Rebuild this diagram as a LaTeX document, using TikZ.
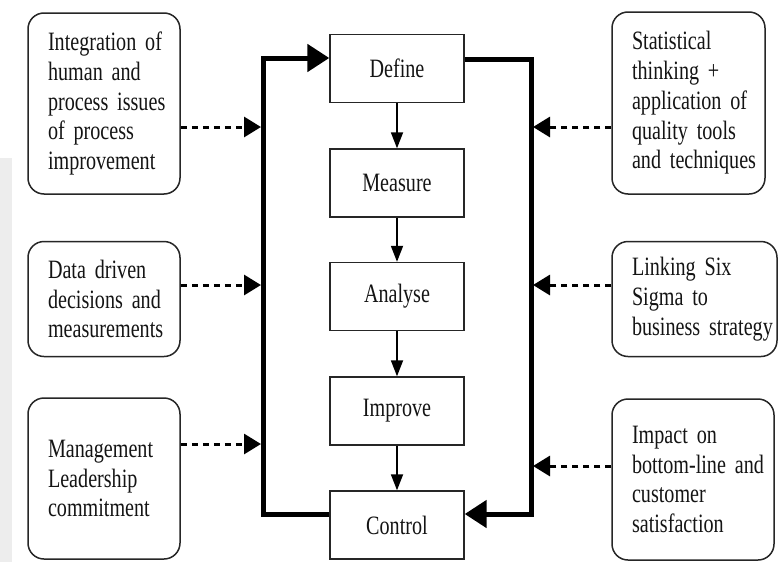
\documentclass[tikz,border=0pt]{standalone}
\usepackage{fontspec}
\setmainfont[FakeStretch=0.76]{Liberation Serif}
\usetikzlibrary{arrows.meta}
\begin{document}
\begin{tikzpicture}[x=1pt,y=-1pt,
  txt/.style={font=\fontsize{26.5}{29.8}\selectfont, text=black!92},
  sidebox/.style={txt, draw=black!85, line width=1.5pt, rounded corners=16pt, align=left, inner xsep=20pt, inner ysep=0pt,
    execute at begin node={\hyphenpenalty=10000\exhyphenpenalty=10000\hbadness=10000\hfuzz=100pt}},
  stepbox/.style={txt, draw=black!85, line width=1.4pt, minimum width=134pt, minimum height=68pt, inner sep=0pt},
  thin arrow/.style={draw=black, line width=1.8pt, -{Triangle[length=16pt,width=12pt]}},
  thick loop/.style={draw=black, line width=5pt, -{Triangle[length=22pt,width=27pt]}},
  dot arrow/.style={draw=black, line width=3pt, dash pattern=on 6pt off 5pt, -{Triangle[length=17pt,width=20pt]}}
]
\useasboundingbox (0,0) rectangle (778,562);
\fill[white] (0,0) rectangle (778,562);
\fill[black!7] (0,158) rectangle (12,562);

% side boxes
\node[sidebox, text width=112pt, minimum height=181pt] (L1) at (104,103.5) {Integration~of\\human~and\\process~issues\\of~process\\improvement};
\node[sidebox, text width=112pt, minimum height=115pt] (L2) at (104,299) {Data~driven\\decisions~and\\measurements};
\node[sidebox, text width=112pt, minimum height=161pt] (L3) at (104,478.5) {Management\\Leadership\\commitment};
\node[sidebox, text width=113pt, minimum height=182pt] (R1) at (688.5,103) {Statistical\\thinking~+\\application~of\\quality~tools\\and~techniques};
\node[sidebox, text width=125pt, minimum height=115pt] (R2) at (694.5,299) {Linking~Six\\Sigma~to\\business~strategy};
\node[sidebox, text width=122pt, minimum height=161pt] (R3) at (693,479.5) {Impact~on\\bottom-line~and\\customer\\satisfaction};

% DMAIC steps
\node[stepbox] (D) at (397,68.5) {Define};
\node[stepbox] (M) at (397,183) {Measure};
\node[stepbox] (A) at (397,296.5) {Analyse};
\node[stepbox] (I) at (397,411) {Improve};
\node[stepbox] (C) at (397,525) {Control};

\draw[thin arrow] (D) -- (M);
\draw[thin arrow] (M) -- (A);
\draw[thin arrow] (A) -- (I);
\draw[thin arrow] (I) -- (C);

% feedback loops
\coordinate (lt) at (263,58);
\coordinate (lb) at (263,514);
\coordinate (rt) at (531,59);
\coordinate (rb) at (531,514);
\draw[thick loop] (C.west |- lb) -- (lb) -- (lt) -- (D.west |- lt);
\draw[thick loop] (D.east |- rt) -- (rt) -- (rb) -- (C.east |- rb);

% dotted inputs
\coordinate (la1) at (261,127);
\coordinate (la2) at (261,285);
\coordinate (la3) at (261,444);
\coordinate (ra1) at (533,127);
\coordinate (ra2) at (533,285);
\coordinate (ra3) at (533,466);
\draw[dot arrow] (L1.east |- la1) -- (la1);
\draw[dot arrow] (L2.east |- la2) -- (la2);
\draw[dot arrow] (L3.east |- la3) -- (la3);
\draw[dot arrow] (R1.west |- ra1) -- (ra1);
\draw[dot arrow] (R2.west |- ra2) -- (ra2);
\draw[dot arrow] (R3.west |- ra3) -- (ra3);
\end{tikzpicture}
\end{document}
